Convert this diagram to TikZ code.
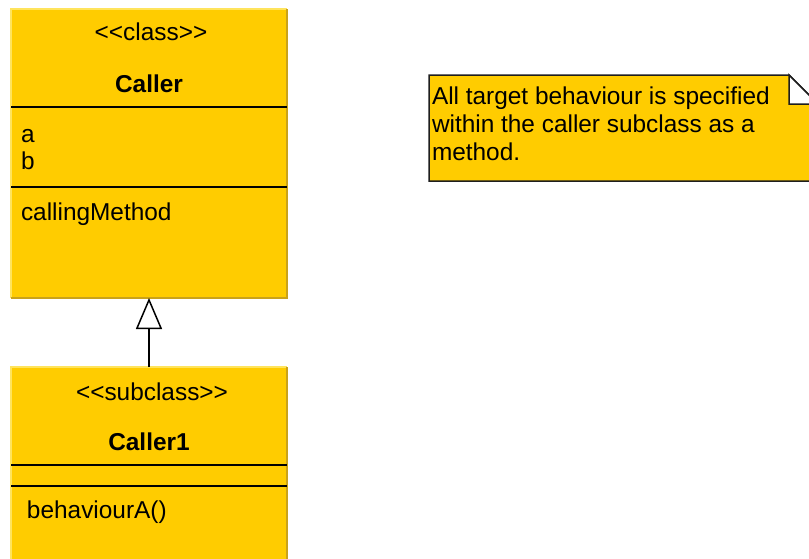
\documentclass[tikz,border=0pt]{standalone}
\usepackage{fontspec}
\setmainfont{Liberation Sans}
\usetikzlibrary{arrows.meta}
\definecolor{umlfill}{HTML}{FFCC00}
\definecolor{edgelight}{HTML}{FFE45C}
\definecolor{edgedark}{HTML}{C9A21A}
\definecolor{noteedge}{HTML}{1E1E1E}
\begin{document}
\begin{tikzpicture}[x=1pt,y=-1pt,
  classbox/.style={fill=umlfill, minimum width=276pt, inner sep=0pt, outer sep=0pt, anchor=north west},
  umltext/.style={font=\fontsize{24.4}{28}\selectfont, inner sep=0pt, outer sep=0pt},
  sepline/.style={black, line width=1.6pt},
  inherit/.style={line width=1.5pt, -{Triangle[open, length=31pt, width=26pt]}}]
\useasboundingbox (0,0) rectangle (809,558);
\clip (0,0) rectangle (809,558);

% class boxes
\node[classbox, minimum height=289pt] (caller) at (11,9) {};
\node[classbox, minimum height=220pt] (caller1) at (11,367) {};
\foreach \b in {caller, caller1} {
  \draw[edgelight, line width=1.2pt] (\b.south west) |- (\b.north east);
  \draw[edgedark, line width=1.2pt] (\b.north east) |- (\b.south west);
}

% compartments of Caller
\draw[sepline] ([yshift=-98pt]caller.north west) -- ([yshift=-98pt]caller.north east);
\draw[sepline] ([yshift=-178pt]caller.north west) -- ([yshift=-178pt]caller.north east);
\node[umltext, anchor=base] (callerstereo) at (151,40) {<{}<class>{}>};
\node[umltext, anchor=base, font=\fontsize{24.4}{28}\selectfont\bfseries] (callername) at (149,92) {Caller};
\node[umltext, anchor=base west] (attra) at (21,142) {a};
\node[umltext, anchor=base west] (attrb) at (21,169) {b};
\node[umltext, anchor=base west] (opcall) at (21,220) {callingMethod};

% compartments of Caller1
\draw[sepline] ([yshift=-98pt]caller1.north west) -- ([yshift=-98pt]caller1.north east);
\draw[sepline] ([yshift=-119pt]caller1.north west) -- ([yshift=-119pt]caller1.north east);
\node[umltext, anchor=base] (substereo) at (152,400) {<{}<subclass>{}>};
\node[umltext, anchor=base, font=\fontsize{24.4}{28}\selectfont\bfseries] (subname) at (149,450) {Caller1};
\node[umltext, anchor=base west] (opbeh) at (27,518) {behaviourA()};

% generalization
\draw[inherit] (caller1.north) -- (caller.south);

% note with folded corner
\node[anchor=north west, minimum width=389pt, minimum height=106pt, inner sep=0pt, outer sep=0pt] (note) at (429,75) {};
\draw[noteedge, fill=umlfill, line width=1.5pt, line join=miter]
  (note.north west) -- ([xshift=-29pt]note.north east) -- ([yshift=-29pt]note.north east)
  -- (note.south east) -- (note.south west) -- cycle;
\draw[noteedge, fill=white, line width=1.5pt]
  ([xshift=-29pt]note.north east) -- ([xshift=-29pt,yshift=-29pt]note.north east)
  -- ([yshift=-29pt]note.north east) -- cycle;
% the base anchor of a multi-line node sits on its last line
\node[umltext, anchor=base west, align=left] (notetext) at (432,160)
  {All target behaviour is specified\\within the caller subclass as a\\method.};
\end{tikzpicture}
\end{document}
